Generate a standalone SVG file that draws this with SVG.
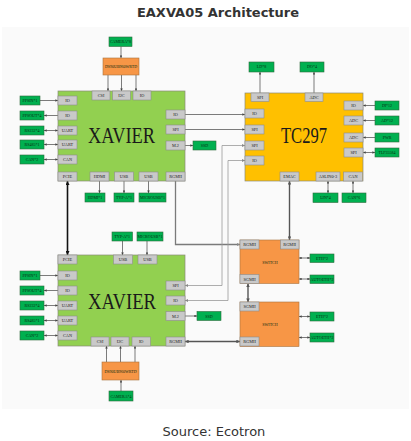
<svg xmlns="http://www.w3.org/2000/svg" width="411" height="441" viewBox="0 0 411 441">
<style>
.bg{fill:#fafafa}
.chip{stroke:#8a8a7a;stroke-width:0.7}
.xav{fill:#92d050}
.tc{fill:#ffc000}
.org{fill:#f79646;stroke:#a8733f;stroke-width:0.6}
.p{fill:#c9c9c9;stroke:#8d8d8d;stroke-width:0.6}
.g{fill:#00b050;stroke:#2f6b3c;stroke-width:0.6}
.pt{font-family:"Liberation Serif",serif;font-size:4.3px;fill:#222;text-anchor:middle}
.gt{font-family:"Liberation Serif",serif;font-size:4px;fill:#0a2a10;text-anchor:middle}
.big{font-family:"Liberation Serif",serif;font-size:23px;fill:#1a1a1a;text-anchor:middle}
.c{fill:none;stroke:#444;stroke-width:0.7}
.cg{fill:none;stroke:#999;stroke-width:0.8}
.cr{fill:none;stroke:#7a7a7a;stroke-width:1.3}
.ck{fill:none;stroke:#111;stroke-width:1.6}
.cd{fill:none;stroke:#555;stroke-width:1.4}
</style>
<defs>
<marker id="a" viewBox="0 0 6 6" refX="6" refY="3" markerWidth="2.6" markerHeight="2.6" markerUnits="userSpaceOnUse" orient="auto-start-reverse"><path d="M0,0L6,3L0,6z" fill="#444"/></marker>
<marker id="ag" viewBox="0 0 6 6" refX="6" refY="3" markerWidth="3" markerHeight="3" markerUnits="userSpaceOnUse" orient="auto-start-reverse"><path d="M0,0L6,3L0,6z" fill="#888"/></marker>
<marker id="ak" viewBox="0 0 6 6" refX="6" refY="3" markerWidth="4" markerHeight="4" markerUnits="userSpaceOnUse" orient="auto-start-reverse"><path d="M0,0L6,3L0,6z" fill="#111"/></marker>
<marker id="ad" viewBox="0 0 6 6" refX="6" refY="3" markerWidth="3.6" markerHeight="3.6" markerUnits="userSpaceOnUse" orient="auto-start-reverse"><path d="M0,0L6,3L0,6z" fill="#555"/></marker>
</defs>
<rect class="bg" x="2" y="27" width="407" height="382"/>
<text x="218" y="16.5" font-family="DejaVu Sans,sans-serif" font-weight="bold" font-size="13" text-anchor="middle" fill="#333">EAXVA05 Architecture</text>

<g id="connectors">
<!-- top camera chain -->
<path class="c" d="M121,46.5V58" marker-end="url(#a)"/>
<path class="c" d="M108,75V91" marker-end="url(#a)"/>
<path class="c" d="M121.5,75V91" marker-end="url(#a)"/>
<path class="c" d="M136,75V91" marker-end="url(#a)"/>
<!-- xavier1 left -->
<path class="c" d="M40,100.5H58" marker-end="url(#a)"/>
<path class="c" d="M44,115.5H58" marker-start="url(#a)"/>
<path class="c" d="M44,130.5H58" marker-start="url(#a)" marker-end="url(#a)"/>
<path class="c" d="M44,144.5H58" marker-start="url(#a)" marker-end="url(#a)"/>
<path class="c" d="M44,159.5H58" marker-start="url(#a)" marker-end="url(#a)"/>
<!-- xavier1 to tc297 -->
<path class="c" d="M185,114.5H245" marker-end="url(#a)"/>
<path class="c" d="M185,129.5H245" marker-end="url(#a)"/>
<path class="c" d="M185,145.5H193" marker-end="url(#a)"/>
<!-- xavier1 bottom -->
<path class="c" d="M99.5,181V193" marker-end="url(#a)"/>
<path class="c" d="M124,181V193" marker-end="url(#a)"/>
<path class="c" d="M148.5,181V193" marker-end="url(#a)"/>
<!-- PCIE -->
<path class="ck" d="M67.5,181V255" marker-start="url(#ak)" marker-end="url(#ak)"/>
<!-- RGMII xavier1 to switch1 -->
<path class="cr" d="M175.5,181V244.5H240" marker-end="url(#ag)"/>
<!-- tc297 SPI/IO to xavier2 -->
<path class="cg" d="M245,145.5H222V285.5H185" marker-start="url(#ag)" marker-end="url(#ag)"/>
<path class="cg" d="M245,160.5H228V300.5H185" marker-start="url(#ag)" marker-end="url(#ag)"/>
<!-- tc297 top -->
<path class="c" d="M260,93V72" marker-end="url(#a)"/>
<path class="c" d="M314,93V72" marker-end="url(#a)"/>
<!-- tc297 right -->
<path class="c" d="M375,105.5H363" marker-end="url(#a)"/>
<path class="c" d="M375,120.5H363" marker-end="url(#a)"/>
<path class="c" d="M375,137.5H363" marker-end="url(#a)"/>
<path class="c" d="M363,152.5H375" marker-start="url(#a)" marker-end="url(#a)"/>
<!-- tc297 bottom -->
<path class="c" d="M328,181V193" marker-start="url(#a)" marker-end="url(#a)"/>
<path class="c" d="M353,181V193" marker-start="url(#a)" marker-end="url(#a)"/>
<!-- EMAC to switch -->
<path class="cd" d="M289.5,181V240" marker-start="url(#ad)" marker-end="url(#ad)"/>
<!-- switch labels -->
<path class="c" d="M299,258H310" marker-start="url(#a)" marker-end="url(#a)"/>
<path class="c" d="M299,279H310" marker-start="url(#a)" marker-end="url(#a)"/>
<path class="c" d="M299,316.5H310" marker-start="url(#a)" marker-end="url(#a)"/>
<path class="c" d="M299,337.5H310" marker-start="url(#a)" marker-end="url(#a)"/>
<!-- SGMII -->
<path class="cd" d="M248,283.5V302" marker-start="url(#ad)" marker-end="url(#ad)"/>
<!-- xavier2 RGMII to switch2 -->
<path class="cd" d="M185,341.5H240" marker-start="url(#ad)" marker-end="url(#ad)"/>
<!-- xavier2 top -->
<path class="c" d="M122.5,241V255" marker-end="url(#a)"/>
<path class="c" d="M147,241V255" marker-end="url(#a)"/>
<path class="c" d="M185,316H197" marker-end="url(#a)"/>
<!-- xavier2 left -->
<path class="c" d="M40,275.5H58" marker-end="url(#a)"/>
<path class="c" d="M44,290.5H58" marker-start="url(#a)"/>
<path class="c" d="M44,305.5H58" marker-start="url(#a)" marker-end="url(#a)"/>
<path class="c" d="M44,320.5H58" marker-start="url(#a)" marker-end="url(#a)"/>
<path class="c" d="M44,335.5H58" marker-start="url(#a)" marker-end="url(#a)"/>
<!-- bottom camera chain -->
<path class="c" d="M106.5,362V346" marker-end="url(#a)"/>
<path class="c" d="M120.5,362V346" marker-end="url(#a)"/>
<path class="c" d="M135,362V346" marker-end="url(#a)"/>
<path class="c" d="M121,391V380" marker-end="url(#a)"/>
</g>

<g id="camera8"><rect class="g" x="109" y="37" width="23" height="9.5"/><text class="gt" x="120.5" y="43.3">CAMERA*8</text></g>
<g id="ds90-top"><rect class="org" x="103" y="58" width="36" height="17"/><text class="gt" x="121" y="68">DS90UB960WRTD</text></g>

<g id="xavier1">
<rect class="chip xav" x="58" y="91" width="127" height="90"/>
<text class="big" x="121.5" y="143" textLength="67" lengthAdjust="spacingAndGlyphs">XAVIER</text>
<rect class="p" x="92" y="91" width="18" height="9"/><text class="pt" x="101" y="97">CSI</text>
<rect class="p" x="112.5" y="91" width="18" height="9"/><text class="pt" x="121.5" y="97">I2C</text>
<rect class="p" x="133" y="91" width="18" height="9"/><text class="pt" x="142" y="97">IO</text>
<rect class="p" x="58" y="96" width="19" height="9"/><text class="pt" x="67.5" y="102">IO</text>
<rect class="p" x="58" y="111" width="19" height="9"/><text class="pt" x="67.5" y="117">IO</text>
<rect class="p" x="58" y="126" width="19" height="9"/><text class="pt" x="67.5" y="132">UART</text>
<rect class="p" x="58" y="140" width="19" height="9"/><text class="pt" x="67.5" y="146">UART</text>
<rect class="p" x="58" y="155" width="19" height="9"/><text class="pt" x="67.5" y="161">CAN</text>
<rect class="p" x="166" y="110" width="19" height="9"/><text class="pt" x="175.5" y="116">IO</text>
<rect class="p" x="166" y="125" width="19" height="9"/><text class="pt" x="175.5" y="131">SPI</text>
<rect class="p" x="166" y="141" width="19" height="9"/><text class="pt" x="175.5" y="147">M.2</text>
<rect class="p" x="58" y="172" width="19" height="9"/><text class="pt" x="67.5" y="178">PCIE</text>
<rect class="p" x="90" y="172" width="19" height="9"/><text class="pt" x="99.5" y="178">HDMI</text>
<rect class="p" x="114.5" y="172" width="19" height="9"/><text class="pt" x="124" y="178">USB</text>
<rect class="p" x="139" y="172" width="19" height="9"/><text class="pt" x="148.5" y="178">USB</text>
<rect class="p" x="166" y="172" width="19" height="9"/><text class="pt" x="175.5" y="178">RGMII</text>
</g>

<g id="x1-labels">
<rect class="g" x="20" y="96" width="20" height="9"/><text class="gt" x="30" y="102">PPSIN*1</text>
<rect class="g" x="20" y="111" width="24" height="9"/><text class="gt" x="32" y="117">PPSOUT*4</text>
<rect class="g" x="20" y="126" width="24" height="9"/><text class="gt" x="32" y="132">RS232*4</text>
<rect class="g" x="20" y="140" width="24" height="9"/><text class="gt" x="32" y="146">RS485*1</text>
<rect class="g" x="20" y="155" width="24" height="9"/><text class="gt" x="32" y="161">CAN*2</text>
<rect class="g" x="193" y="141" width="23" height="9"/><text class="gt" x="204.5" y="147">SSD</text>
<rect class="g" x="85" y="193" width="20" height="9"/><text class="gt" x="95" y="199">HDMI*1</text>
<rect class="g" x="114" y="193" width="20" height="9"/><text class="gt" x="124" y="199">TYP-A*1</text>
<rect class="g" x="139" y="193" width="27" height="9"/><text class="gt" x="152.5" y="199">MICROUSB*1</text>
</g>

<g id="tc297">
<rect class="chip tc" x="245" y="93" width="118" height="88"/>
<text class="big" x="304" y="143" textLength="46" lengthAdjust="spacingAndGlyphs">TC297</text>
<rect class="p" x="251" y="93" width="18" height="8.5"/><text class="pt" x="260" y="98.8">SPI</text>
<rect class="p" x="305" y="93" width="18" height="8.5"/><text class="pt" x="314" y="98.8">ADC</text>
<rect class="p" x="245" y="109" width="19" height="9"/><text class="pt" x="254.5" y="115">IO</text>
<rect class="p" x="245" y="125" width="19" height="9"/><text class="pt" x="254.5" y="131">SPI</text>
<rect class="p" x="245" y="141" width="19" height="9"/><text class="pt" x="254.5" y="147">SPI</text>
<rect class="p" x="245" y="156" width="19" height="9"/><text class="pt" x="254.5" y="162">IO</text>
<rect class="p" x="344" y="101" width="19" height="9"/><text class="pt" x="353.5" y="107">IO</text>
<rect class="p" x="344" y="116" width="19" height="9"/><text class="pt" x="353.5" y="122">ADC</text>
<rect class="p" x="344" y="133" width="19" height="9"/><text class="pt" x="353.5" y="139">ADC</text>
<rect class="p" x="344" y="148" width="19" height="9"/><text class="pt" x="353.5" y="154">SPI</text>
<rect class="p" x="280" y="172" width="19" height="9"/><text class="pt" x="289.5" y="178">EMAC</text>
<rect class="p" x="316" y="172" width="24" height="9"/><text class="pt" x="328" y="178">ASLIN0-3</text>
<rect class="p" x="343.5" y="172" width="19" height="9"/><text class="pt" x="353" y="178">CAN</text>
</g>

<g id="tc-labels">
<rect class="g" x="249" y="62" width="25" height="10"/><text class="gt" x="261.5" y="68.4">LD*8</text>
<rect class="g" x="300" y="62" width="24" height="10"/><text class="gt" x="312" y="68.4">DO*4</text>
<rect class="g" x="375" y="101" width="24" height="9"/><text class="gt" x="387" y="107">DI*12</text>
<rect class="g" x="375" y="116" width="24" height="9"/><text class="gt" x="387" y="122">AD*12</text>
<rect class="g" x="375" y="133" width="24" height="9"/><text class="gt" x="387" y="139">PWR</text>
<rect class="g" x="375" y="148" width="24" height="9"/><text class="gt" x="387" y="154">TLF35584</text>
<rect class="g" x="313" y="193" width="25" height="9.5"/><text class="gt" x="325.5" y="199.3">LIN*4</text>
<rect class="g" x="342" y="193" width="24" height="9.5"/><text class="gt" x="354" y="199.3">CAN*6</text>
</g>

<g id="switch1">
<rect class="org" x="240" y="240" width="59" height="43.5"/>
<text class="gt" x="270" y="263.5">SWITCH</text>
<rect class="p" x="240" y="240" width="19" height="9"/><text class="pt" x="249.5" y="246">RGMII</text>
<rect class="p" x="280.5" y="240" width="18.5" height="9"/><text class="pt" x="289.7" y="246">RGMII</text>
<rect class="p" x="240" y="274.5" width="19" height="9"/><text class="pt" x="249.5" y="280.5">SGMII</text>
<rect class="g" x="310" y="254" width="24" height="8.5"/><text class="gt" x="322" y="259.8">ETH*2</text>
<rect class="g" x="310" y="275" width="24" height="8.5"/><text class="gt" x="322" y="280.8">AUTOETH*2</text>
</g>

<g id="switch2">
<rect class="org" x="240" y="302" width="59" height="44.5"/>
<text class="gt" x="270" y="325.5">SWITCH</text>
<rect class="p" x="240" y="302" width="19" height="9"/><text class="pt" x="249.5" y="308">SGMII</text>
<rect class="p" x="240" y="337" width="19" height="9"/><text class="pt" x="249.5" y="343">RGMII</text>
<rect class="g" x="310" y="312" width="24" height="9"/><text class="gt" x="322" y="318">ETH*2</text>
<rect class="g" x="310" y="333" width="24" height="9"/><text class="gt" x="322" y="339">AUTOETH*2</text>
</g>

<g id="xavier2">
<rect class="chip xav" x="58" y="255" width="127" height="91"/>
<text class="big" x="122" y="308.5" textLength="68" lengthAdjust="spacingAndGlyphs">XAVIER</text>
<rect class="p" x="58" y="255" width="19" height="9"/><text class="pt" x="67.5" y="261">PCIE</text>
<rect class="p" x="113.5" y="255" width="19" height="9"/><text class="pt" x="123" y="261">USB</text>
<rect class="p" x="138" y="255" width="19" height="9"/><text class="pt" x="147.5" y="261">USB</text>
<rect class="p" x="58" y="271" width="19" height="9"/><text class="pt" x="67.5" y="277">IO</text>
<rect class="p" x="58" y="286" width="19" height="9"/><text class="pt" x="67.5" y="292">IO</text>
<rect class="p" x="58" y="301" width="19" height="9"/><text class="pt" x="67.5" y="307">UART</text>
<rect class="p" x="58" y="316" width="19" height="9"/><text class="pt" x="67.5" y="322">UART</text>
<rect class="p" x="58" y="331" width="19" height="9"/><text class="pt" x="67.5" y="337">CAN</text>
<rect class="p" x="166" y="281" width="19" height="9"/><text class="pt" x="175.5" y="287">SPI</text>
<rect class="p" x="166" y="296" width="19" height="9"/><text class="pt" x="175.5" y="302">IO</text>
<rect class="p" x="166" y="311.5" width="19" height="9"/><text class="pt" x="175.5" y="317.5">M.2</text>
<rect class="p" x="91" y="337" width="18" height="9"/><text class="pt" x="100" y="343">CSI</text>
<rect class="p" x="111" y="337" width="18" height="9"/><text class="pt" x="120" y="343">I2C</text>
<rect class="p" x="132" y="337" width="18.5" height="9"/><text class="pt" x="141.2" y="343">IO</text>
<rect class="p" x="166" y="337" width="19" height="9"/><text class="pt" x="175.5" y="343">RGMII</text>
</g>

<g id="x2-labels">
<rect class="g" x="112" y="232" width="20.5" height="9"/><text class="gt" x="122.2" y="238">TYP-A*1</text>
<rect class="g" x="137" y="232" width="26" height="9"/><text class="gt" x="150" y="238">MICROUSB*1</text>
<rect class="g" x="197" y="311.5" width="24" height="9"/><text class="gt" x="209" y="317.5">SSD</text>
<rect class="g" x="20" y="271" width="20" height="9"/><text class="gt" x="30" y="277">PPSIN*1</text>
<rect class="g" x="20" y="286" width="24" height="9"/><text class="gt" x="32" y="292">PPSOUT*4</text>
<rect class="g" x="20" y="301" width="24" height="9"/><text class="gt" x="32" y="307">RS232*4</text>
<rect class="g" x="20" y="316" width="24" height="9"/><text class="gt" x="32" y="322">RS485*1</text>
<rect class="g" x="20" y="331" width="24" height="9"/><text class="gt" x="32" y="337">CAN*2</text>
</g>

<g id="ds90-bottom"><rect class="org" x="102" y="362" width="37" height="18"/><text class="gt" x="120.5" y="372.5">DS90UB960WRTD</text></g>
<g id="camera4"><rect class="g" x="109" y="391" width="24" height="10"/><text class="gt" x="121" y="397.5">CAMERA*4</text></g>

<text x="162.5" y="436" font-family="DejaVu Sans,sans-serif" font-size="13" fill="#333">Source: Ecotron</text>
</svg>
